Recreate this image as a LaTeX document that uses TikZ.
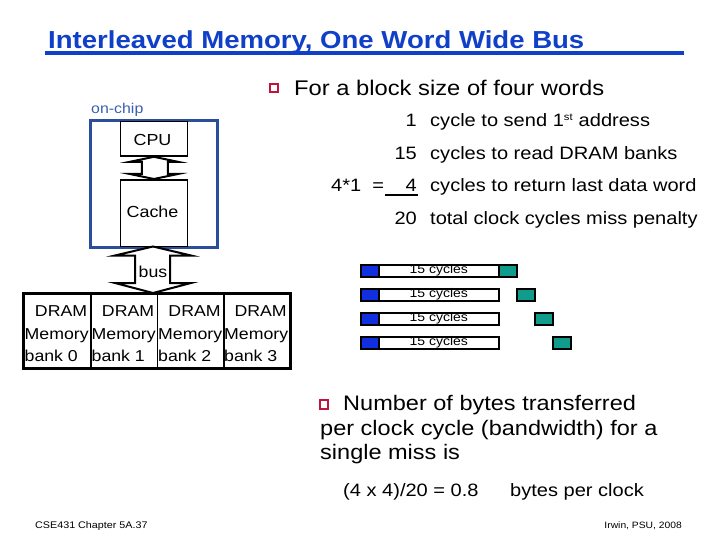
\documentclass[tikz,border=0pt]{standalone}
\usepackage{fontspec}
\setmainfont{Liberation Sans}[FakeStretch=1.12]
\usetikzlibrary{calc}
\newcommand{\fsz}[1]{\fontsize{#1}{#1}\selectfont}
\definecolor{titleblue}{HTML}{1040C8}
\definecolor{chipblue}{HTML}{2A4E9C}
\definecolor{chiptext}{HTML}{3A5EB0}
\definecolor{bulletred}{HTML}{C0143C}
\definecolor{barblue}{HTML}{1030E0}
\definecolor{barteal}{HTML}{109C8C}
\tikzset{
  txt/.style={inner sep=0pt, anchor=base west},
  box/.style={draw=black, line width=1.8pt, fill=white, inner sep=0pt},
  bankbox/.style={draw=black, line width=1.8pt, inner sep=0pt, minimum height=74pt},
  blockarrow/.style={draw=black, line width=2pt, fill=white, line join=miter},
  bullet/.style={draw=bulletred, line width=2pt, fill=white, minimum size=8.5pt, inner sep=0pt},
  bluebar/.style={draw=black, line width=1.5pt, fill=barblue},
  whitebar/.style={draw=black, line width=1.5pt, fill=white},
  tealbar/.style={draw=black, line width=1.5pt, fill=barteal},
}
\begin{document}
\begin{tikzpicture}[x=1pt,y=-1pt]
\useasboundingbox (0,0) rectangle (720,540);
\fill[white] (0,0) rectangle (720,540);

% title
\node[txt, text=titleblue] (title) at (48,49) {\fsz{24.6}\bfseries Interleaved Memory, One Word Wide Bus};
\fill[titleblue] (45,51.5) rectangle (684,55.5);

% first bullet
\node[bullet] (b1) at (274,88) {};
\node[txt] (blk) at (294,96) {\fsz{21.2}For a block size of four words};

% on-chip
\node[txt, text=chiptext] (onchip) at (91,114) {\fsz{14.2}on-chip};
\node[draw=chipblue, line width=1.8pt, minimum width=126pt, minimum height=126pt, inner sep=0pt, anchor=north west] (chip) at (90,120) {};
\node[box, minimum width=67pt, minimum height=35pt, anchor=north west] (cpu) at (119.5,120) {};
\node[txt, anchor=base] (cputxt) at (152.5,146) {\fsz{16}CPU};
\node[box, minimum width=67pt, minimum height=67pt, anchor=north west] (cache) at (119.5,179) {};
\node[txt, anchor=base] (cachetxt) at (152.5,218) {\fsz{16}Cache};
\draw[chipblue, line width=1.8pt] (chip.north west) rectangle (chip.south east);

% CPU <-> cache arrow
\draw[blockarrow] (cpu.south)
  -- ($(cpu.south)+(-24,5)$) -- ($(cpu.south)+(-12,5)$) -- ($(cache.north)+(-12,-5)$) -- ($(cache.north)+(-24,-5)$)
  -- (cache.north)
  -- ($(cache.north)+(24,-5)$) -- ($(cache.north)+(14,-5)$) -- ($(cpu.south)+(14,5)$) -- ($(cpu.south)+(24,5)$)
  -- cycle;

% DRAM banks
\foreach \i/\x in {0/23,1/90,2/156.5,3/222.5}{
  \node[bankbox, minimum width=66.5pt, anchor=north west] (bank\i) at (\x,293) {};
}
\draw[black, line width=1.8pt] (bank0.north west) rectangle (bank3.south east);
\foreach \i in {0,1,2,3}{
  \node[inner sep=0pt, anchor=base east] (d\i) at ($(bank\i.north east)+(-4,23.5)$) {\fsz{15.8}DRAM};
  \node[inner sep=0pt, anchor=base west] (m\i) at ($(bank\i.north west)+(1.5,46)$) {\fsz{15.8}Memory};
  \node[inner sep=0pt, anchor=base west] (k\i) at ($(bank\i.north west)+(1.5,68.5)$) {\fsz{15.8}bank \i};
}

% bus arrow
\coordinate (bustop) at (153,246.5);
\coordinate (busbot) at (153,293);
\draw[blockarrow] (bustop)
  -- ($(bustop)+(-38,9)$) -- ($(bustop)+(-18,9)$) -- ($(busbot)+(-18,-10)$) -- ($(busbot)+(-38,-10)$)
  -- (busbot)
  -- ($(busbot)+(38,-10)$) -- ($(busbot)+(17,-10)$) -- ($(bustop)+(17,9)$) -- ($(bustop)+(38,9)$)
  -- cycle;
\node[inner sep=0pt, anchor=base] (bus) at (153,277) {\fsz{15.8}bus};

% cycle list
\foreach \n/\y/\t in {1/127/{cycle to send 1\textsuperscript{\fsz{10}st} address},15/159.5/{cycles to read DRAM banks},4/192/{cycles to return last data word},20/224.5/{total clock cycles miss penalty}}{
  \node[inner sep=0pt, anchor=base east] (n\n) at (417,\y) {\fsz{17.9}\n};
  \node[txt] (t\n) at (430,\y) {\fsz{17.9}\t};
}
\node[txt] (eq) at (331,192) {\fsz{17.9}4*1\ \ =};
\draw[black, line width=1.8pt] (385,195) -- (418,195);

% timing bars
\foreach \r/\y/\tx in {1/264/498,2/288/516,3/312/534,4/336/552}{
  \node[bluebar, minimum width=18pt, minimum height=12pt, inner sep=0pt, anchor=north west] (bl\r) at (360,\y) {};
  \node[whitebar, minimum width=120pt, minimum height=12pt, inner sep=0pt, anchor=north west] (wh\r) at (378,\y) {\fsz{12.5}15 cycles};
  \node[tealbar, minimum width=18pt, minimum height=12pt, inner sep=0pt, anchor=north west] (te\r) at (\tx,\y) {};
}

% second bullet
\node[bullet] (b2) at (324,404.5) {};
\node[txt] (nb1) at (343,410) {\fsz{21}Number of bytes transferred};
\node[txt] (nb2) at (320,435) {\fsz{21}per clock cycle (bandwidth) for a};
\node[txt] (nb3) at (320,459.5) {\fsz{21}single miss is};
\node[txt] (calc) at (343,496) {\fsz{17.9}(4 x 4)/20 = 0.8};
\node[txt] (bpc) at (510,496) {\fsz{17.9}bytes per clock};

% footer
\node[txt] (foot1) at (35,528) {\fsz{9.6}CSE431  Chapter 5A.37};
\node[inner sep=0pt, anchor=base east] (foot2) at (682,528) {\fsz{9.2}Irwin, PSU, 2008};
\end{tikzpicture}
\end{document}
